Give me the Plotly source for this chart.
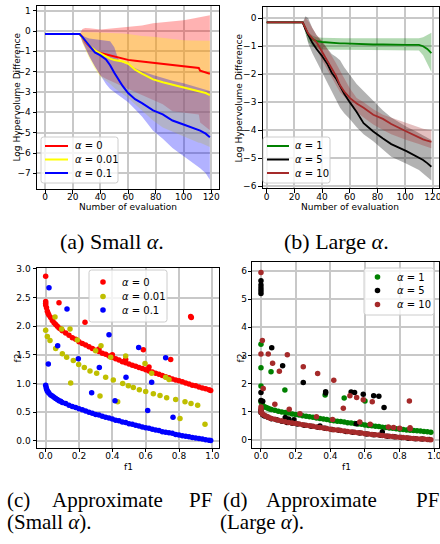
import plotly.graph_objects as go

W, H = 440, 544

# ---------------- (a) Small alpha: log hypervolume difference ----------------
a_x = [0, 25, 27, 29, 32, 36, 40, 44, 47, 50, 53, 56, 60, 65, 70, 78, 85, 92, 100, 106, 111, 112, 116, 119]
a_red_mean = [-0.15, -0.15, -0.3, -0.52, -0.75, -0.98, -1.08, -1.15, -1.2, -1.25, -1.3, -1.36, -1.42, -1.46, -1.5, -1.56, -1.62, -1.66, -1.72, -1.77, -1.82, -1.95, -2.02, -2.1]
a_red_hi = [-0.15, -0.15, 0.1, 0.15, 0.14, 0.1, 0.08, 0.1, 0.12, 0.12, 0.13, 0.15, 0.18, 0.22, 0.27, 0.38, 0.42, 0.47, 0.53, 0.6, 0.68, 0.69, 0.74, 0.78]
a_red_lo = [-0.15, -0.15, -0.55, -0.85, -1.25, -1.75, -2.2, -2.35, -2.45, -2.55, -2.65, -2.75, -2.85, -3.0, -3.15, -3.4, -3.6, -3.95, -4.0, -4.05, -4.1, -4.5, -4.7, -4.88]
a_yel_mean = [-0.15, -0.15, -0.32, -0.5, -0.72, -0.95, -1.1, -1.27, -1.36, -1.43, -1.47, -1.5, -1.6, -1.9, -2.1, -2.38, -2.52, -2.64, -2.78, -2.88, -2.96, -2.97, -3.05, -3.15]
a_yel_hi = [-0.15, -0.15, -0.05, -0.05, -0.05, -0.05, -0.06, -0.08, -0.1, -0.1, -0.11, -0.12, -0.15, -0.2, -0.24, -0.28, -0.34, -0.4, -0.45, -0.47, -0.48, -0.48, -0.48, -0.48]
a_yel_lo = [-0.15, -0.15, -0.6, -0.9, -1.35, -1.85, -2.25, -2.45, -2.6, -2.8, -2.95, -3.1, -3.3, -3.6, -3.9, -4.4, -4.75, -4.95, -5.2, -5.35, -5.5, -5.5, -5.6, -5.7]
a_blu_mean = [-0.15, -0.15, -0.3, -0.45, -0.72, -1.05, -1.2, -1.4, -1.68, -2.05, -2.4, -2.7, -3.05, -3.35, -3.55, -3.9, -4.1, -4.4, -4.6, -4.75, -4.85, -4.9, -5.05, -5.22]
a_blu_hi = [-0.15, -0.15, -0.22, -0.3, -0.37, -0.4, -0.43, -0.46, -0.5, -0.8, -1.4, -1.55, -1.68, -1.85, -1.98, -2.16, -2.3, -2.45, -2.57, -2.7, -2.8, -2.82, -2.88, -2.95]
a_blu_lo = [-0.15, -0.15, -0.5, -0.8, -1.25, -1.75, -2.2, -2.6, -2.85, -3.0, -3.15, -3.3, -3.5, -3.85, -4.2, -4.9, -5.3, -5.75, -6.15, -6.45, -6.7, -6.75, -7.0, -7.32]
a_labels = ["<i>α</i> = 0", "<i>α</i> = 0.01", "<i>α</i> = 0.1"]

# ---------------- (b) Large alpha ----------------
b_x = [0, 26, 28, 30, 33, 36, 40, 44, 47, 50, 53, 56, 60, 65, 70, 77, 84, 90, 101, 108, 110, 113, 116, 119]
b_grn_mean = [-0.15, -0.15, -0.35, -0.6, -0.75, -0.82, -0.85, -0.87, -0.88, -0.89, -0.9, -0.9, -0.91, -0.92, -0.93, -0.94, -0.94, -0.95, -0.95, -0.95, -0.95, -1.0, -1.1, -1.25]
b_grn_hi = [-0.15, -0.15, -0.3, -0.5, -0.62, -0.68, -0.7, -0.71, -0.71, -0.72, -0.72, -0.72, -0.72, -0.72, -0.72, -0.72, -0.72, -0.72, -0.72, -0.72, -0.72, -0.68, -0.6, -0.52]
b_grn_lo = [-0.15, -0.15, -0.55, -0.85, -1.0, -1.08, -1.12, -1.13, -1.13, -1.13, -1.13, -1.13, -1.13, -1.13, -1.13, -1.13, -1.13, -1.13, -1.13, -1.13, -1.15, -1.32, -1.6, -1.92]
b_blk_mean = [-0.15, -0.15, -0.4, -0.6, -0.88, -1.1, -1.35, -1.65, -1.95, -2.15, -2.45, -2.7, -3.0, -3.35, -3.75, -4.05, -4.3, -4.5, -4.75, -4.93, -4.98, -5.07, -5.18, -5.31]
b_blk_hi = [-0.15, -0.15, 0.07, 0.0, -0.35, -0.6, -0.85, -1.1, -1.28, -1.38, -1.5, -1.75, -2.0, -2.35, -2.6, -2.95, -3.3, -3.55, -3.88, -4.05, -4.1, -4.18, -4.25, -4.35]
b_blk_lo = [-0.15, -0.15, -0.5, -0.9, -1.25, -1.55, -1.95, -2.35, -2.6, -2.9, -3.2, -3.4, -3.6, -3.9, -4.15, -4.4, -4.7, -4.95, -5.2, -5.38, -5.43, -5.55, -5.68, -5.8]
b_brn_mean = [-0.15, -0.15, -0.35, -0.55, -0.72, -0.85, -1.2, -1.52, -1.8, -2.05, -2.4, -2.62, -2.85, -3.05, -3.2, -3.45, -3.6, -3.78, -4.05, -4.22, -4.27, -4.33, -4.38, -4.42]
b_brn_hi = [-0.15, -0.15, 0.0, -0.1, -0.35, -0.6, -0.8, -1.1, -1.35, -1.6, -1.85, -2.15, -2.5, -2.85, -3.0, -3.25, -3.45, -3.55, -3.76, -3.86, -3.9, -3.95, -3.98, -4.0]
b_brn_lo = [-0.15, -0.15, -0.4, -0.65, -0.9, -1.1, -1.5, -1.85, -2.1, -2.35, -2.65, -2.8, -3.05, -3.35, -3.55, -3.8, -4.0, -4.15, -4.35, -4.45, -4.5, -4.55, -4.6, -4.65]
b_labels = ["<i>α</i> = 1", "<i>α</i> = 5", "<i>α</i> = 10"]

# ---------------- (c) Approximate PF, small alpha ----------------
c_red_f1 = [0.0, 0.005, 0.01, 0.015, 0.02, 0.03, 0.04, 0.05, 0.06, 0.07, 0.08, 0.09, 0.10, 0.12, 0.14, 0.16, 0.18, 0.20,
            0.22, 0.24, 0.26, 0.28, 0.30, 0.32, 0.34, 0.36, 0.38, 0.40, 0.42, 0.44, 0.46, 0.48, 0.50, 0.52, 0.54, 0.56,
            0.58, 0.60, 0.62, 0.64, 0.66, 0.68, 0.70, 0.72, 0.74, 0.76, 0.78, 0.80, 0.82, 0.84, 0.86, 0.88, 0.90, 0.92,
            0.94, 0.96, 0.98, 0.99,
            0.0, 0.0, 0.0, 0.08, 0.236, 0.586, 0.62, 0.75, 0.87, 0.874, 0.48, 0.40, 0.32]
c_red_f2 = [2.40, 2.32, 2.26, 2.22, 2.19, 2.15, 2.10, 2.06, 2.03, 2.00, 1.97, 1.95, 1.92, 1.88, 1.84, 1.80, 1.77, 1.73,
            1.70, 1.67, 1.64, 1.61, 1.58, 1.56, 1.53, 1.51, 1.48, 1.46, 1.43, 1.41, 1.38, 1.36, 1.34, 1.32, 1.30, 1.28,
            1.26, 1.24, 1.22, 1.20, 1.18, 1.16, 1.14, 1.12, 1.10, 1.08, 1.06, 1.05, 1.03, 1.01, 0.99, 0.97, 0.96, 0.94,
            0.92, 0.91, 0.89, 0.88,
            2.87, 2.43, 2.37, 2.41, 2.07, 1.59, 1.29, 1.42, 2.17, 2.15, 1.42, 1.50, 1.60]
c_yel_f1 = [0.0, 0.01, 0.026, 0.056, 0.06, 0.096, 0.10, 0.126, 0.146, 0.15, 0.166, 0.19, 0.198, 0.232, 0.266, 0.30,
            0.306, 0.326, 0.332, 0.36, 0.39, 0.406, 0.432, 0.462, 0.48, 0.496, 0.526, 0.562, 0.596, 0.60, 0.636, 0.646,
            0.686, 0.72, 0.726, 0.74, 0.78, 0.806, 0.836, 0.872, 0.912, 0.956]
c_yel_f2 = [1.93, 1.82, 1.75, 2.16, 1.61, 1.95, 1.52, 1.46, 1.95, 1.01, 1.40, 1.76, 1.33, 1.28, 1.22, 1.57,
            1.18, 0.78, 1.66, 1.11, 1.46, 1.06, 0.68, 1.00, 1.48, 0.96, 0.93, 0.89, 1.35, 0.86, 1.18, 0.82,
            0.79, 1.11, 0.75, 1.07, 0.72, 0.39, 0.68, 0.65, 0.62, 0.29]
c_blu_f1 = [0.0, 0.003, 0.006, 0.01, 0.015, 0.02, 0.03, 0.04, 0.05, 0.06, 0.07, 0.08, 0.09, 0.10, 0.12, 0.14, 0.16,
            0.18, 0.20, 0.22, 0.24, 0.26, 0.28, 0.30, 0.32, 0.34, 0.36, 0.38, 0.40, 0.42, 0.44, 0.46, 0.48, 0.50, 0.52,
            0.54, 0.56, 0.58, 0.60, 0.62, 0.64, 0.66, 0.68, 0.70, 0.72, 0.74, 0.76, 0.78, 0.80, 0.82, 0.84, 0.86, 0.88,
            0.90, 0.92, 0.94, 0.96, 0.98, 0.99,
            0.02, 0.128, 0.072, 0.016, 0.196, 0.322, 0.38, 0.276, 0.416, 0.482, 0.558, 0.636, 0.612, 0.72, 0.764]
c_blu_f2 = [0.97, 0.93, 0.90, 0.87, 0.85, 0.83, 0.80, 0.78, 0.76, 0.74, 0.72, 0.70, 0.69, 0.67, 0.65, 0.62, 0.60,
            0.58, 0.56, 0.54, 0.52, 0.50, 0.48, 0.46, 0.45, 0.43, 0.41, 0.40, 0.38, 0.36, 0.35, 0.33, 0.32, 0.30, 0.29,
            0.27, 0.26, 0.24, 0.23, 0.22, 0.20, 0.19, 0.18, 0.16, 0.15, 0.14, 0.13, 0.11, 0.10, 0.09, 0.08, 0.07, 0.06,
            0.05, 0.04, 0.03, 0.02, 0.01, 0.005,
            2.67, 2.30, 1.66, 1.34, 1.43, 1.28, 1.85, 0.84, 0.70, 1.11, 1.63, 1.02, 0.53, 1.45, 0.41]
c_labels = ["<i>α</i> = 0", "<i>α</i> = 0.01", "<i>α</i> = 0.1"]

# ---------------- (d) Approximate PF, large alpha ----------------
d_grn_f1 = [0.0, 0.005, 0.01, 0.02, 0.03, 0.04, 0.05, 0.06, 0.08, 0.10, 0.12, 0.14, 0.16, 0.18, 0.20, 0.22, 0.24, 0.26,
            0.28, 0.30, 0.32, 0.34, 0.36, 0.38, 0.40, 0.42, 0.44, 0.46, 0.48, 0.50, 0.52, 0.54, 0.56, 0.58, 0.60, 0.62,
            0.64, 0.66, 0.68, 0.70, 0.72, 0.74, 0.76, 0.78, 0.80, 0.82, 0.84, 0.86, 0.88, 0.90, 0.92, 0.94, 0.96, 0.98,
            0.0, 0.0, 0.0, 0.058, 0.138, 0.37, 0.48, 0.60]
d_grn_f2 = [1.35, 1.28, 1.23, 1.18, 1.15, 1.12, 1.10, 1.08, 1.05, 1.02, 0.99, 0.97, 0.95, 0.92, 0.90, 0.88, 0.86, 0.84,
            0.82, 0.80, 0.78, 0.76, 0.74, 0.72, 0.70, 0.68, 0.66, 0.65, 0.63, 0.61, 0.60, 0.58, 0.56, 0.55, 0.53, 0.51,
            0.50, 0.48, 0.47, 0.45, 0.44, 0.42, 0.41, 0.39, 0.38, 0.37, 0.35, 0.34, 0.33, 0.32, 0.31, 0.30, 0.29, 0.27,
            3.40, 2.56, 1.91, 2.42, 1.77, 1.59, 1.49, 1.38]
d_blk_f1 = [0.0, 0.01, 0.02, 0.04, 0.06, 0.09, 0.12, 0.15, 0.18, 0.21, 0.25, 0.29, 0.33, 0.37, 0.41, 0.45, 0.49, 0.53,
            0.57, 0.61, 0.65, 0.69, 0.73, 0.77, 0.81, 0.85, 0.89, 0.93, 0.97,
            0.14, 0.16, 0.19, 0.34, 0.55, 0.70,
            0.0, 0.0, 0.0, 0.0, 0.0, 0.0, 0.0, 0.0, 0.01, 0.062, 0.125, 0.244, 0.373, 0.373, 0.52, 0.54, 0.59, 0.65,
            0.68, 0.71]
d_blk_f2 = [0.97, 0.89, 0.85, 0.80, 0.75, 0.71, 0.66, 0.62, 0.59, 0.56, 0.52, 0.48, 0.45, 0.41, 0.37, 0.34, 0.30, 0.27,
            0.24, 0.21, 0.18, 0.16, 0.13, 0.11, 0.08, 0.06, 0.04, 0.025, 0.01,
            0.79, 0.74, 0.71, 0.49, 0.57, 0.28,
            5.65, 5.50, 5.40, 5.30, 5.20, 1.68, 1.40, 1.05, 1.37, 3.27, 2.63, 2.04, 1.71, 1.66, 1.70, 1.68, 1.62, 1.57,
            1.55, 1.15]
d_brn_f1 = [0.0, 0.005, 0.01, 0.02, 0.03, 0.04, 0.05, 0.06, 0.08, 0.10, 0.12, 0.14, 0.16, 0.18, 0.20, 0.22, 0.24, 0.26,
            0.28, 0.30, 0.32, 0.34, 0.36, 0.38, 0.40, 0.42, 0.44, 0.46, 0.48, 0.50, 0.52, 0.54, 0.56, 0.58, 0.60, 0.62,
            0.64, 0.66, 0.68, 0.70, 0.72, 0.74, 0.76, 0.78, 0.80, 0.82, 0.84, 0.86, 0.88, 0.90, 0.92, 0.94, 0.96, 0.98,
            0.0, 0.008, 0.0, 0.042, 0.067, 0.106, 0.152, 0.244, 0.327, 0.42, 0.475, 0.513, 0.552, 0.59, 0.642, 0.856,
            0.013, 0.08, 0.163, 0.225, 0.32, 0.413, 0.57, 0.63, 0.735, 0.765, 0.80, 0.86, 0.86, 0.0, 0.0]
d_brn_f2 = [1.00, 0.95, 0.91, 0.87, 0.84, 0.81, 0.78, 0.76, 0.73, 0.70, 0.67, 0.64, 0.62, 0.60, 0.58, 0.56, 0.54, 0.52,
            0.50, 0.48, 0.46, 0.44, 0.42, 0.40, 0.38, 0.36, 0.35, 0.33, 0.31, 0.30, 0.28, 0.27, 0.25, 0.24, 0.22, 0.21,
            0.19, 0.18, 0.17, 0.15, 0.14, 0.13, 0.12, 0.10, 0.09, 0.08, 0.07, 0.06, 0.05, 0.04, 0.03, 0.025, 0.015, 0.005,
            5.95, 3.53, 3.05, 3.05, 2.72, 2.44, 3.02, 2.60, 2.36, 2.12, 1.12, 1.57, 1.50, 1.42, 1.35, 1.38,
            1.82, 1.26, 1.09, 0.93, 0.82, 0.72, 0.63, 0.55, 0.46, 0.44, 0.41, 0.43, 0.39, 1.17, 1.10]
d_labels = ["<i>α</i> = 1", "<i>α</i> = 5", "<i>α</i> = 10"]

# ---------------- captions ----------------
cap_a = "(a) Small <i>α</i>."
cap_b = "(b) Large <i>α</i>."
cap_c_words = ["(c)", "Approximate", "PF"]
cap_d_words = ["(d)", "Approximate", "PF"]
cap_c2 = "(Small <i>α</i>)."
cap_d2 = "(Large <i>α</i>)."

# ---------------- figure ----------------
FONT = "DejaVu Sans"
SERIF = "Liberation Serif"


def px_x(p):
    return p / W


def px_y(p):
    return 1 - p / H


fig = go.Figure()


def band(x, hi, lo, color, xa, ya):
    fig.add_trace(go.Scatter(x=x, y=hi, mode="lines", line=dict(width=0, color=color),
                             showlegend=False, hoverinfo="skip", xaxis=xa, yaxis=ya))
    fig.add_trace(go.Scatter(x=x, y=lo, mode="lines", line=dict(width=0, color=color),
                             fill="tonexty", fillcolor=color, showlegend=False, hoverinfo="skip",
                             xaxis=xa, yaxis=ya))


a_cols = ["#ff0000", "#ffff00", "#0000ff"]
b_cols = ["#008000", "#000000", "#a52a2a"]
c_cols = ["#ff0000", "#bfbf00", "#0000ff"]
d_cols = ["#008000", "#000000", "#a52a2a"]

# (a)
band(a_x, a_red_hi, a_red_lo, "rgba(255,0,0,0.3)", "x", "y")
band(a_x, a_yel_hi, a_yel_lo, "rgba(255,255,0,0.3)", "x", "y")
band(a_x, a_blu_hi, a_blu_lo, "rgba(0,0,255,0.3)", "x", "y")
for ys, col, lab in zip([a_red_mean, a_yel_mean, a_blu_mean], a_cols, a_labels):
    fig.add_trace(go.Scatter(x=a_x, y=ys, mode="lines", line=dict(color=col, width=2), name=lab,
                             showlegend=False, xaxis="x", yaxis="y"))

# (b)
band(b_x, b_grn_hi, b_grn_lo, "rgba(0,128,0,0.3)", "x2", "y2")
band(b_x, b_blk_hi, b_blk_lo, "rgba(0,0,0,0.3)", "x2", "y2")
band(b_x, b_brn_hi, b_brn_lo, "rgba(165,42,42,0.3)", "x2", "y2")
for ys, col, lab in zip([b_grn_mean, b_blk_mean, b_brn_mean], b_cols, b_labels):
    fig.add_trace(go.Scatter(x=b_x, y=ys, mode="lines", line=dict(color=col, width=1.8), name=lab,
                             showlegend=False, xaxis="x2", yaxis="y2"))

# (c)
for xs, ys, col, lab in zip([c_red_f1, c_yel_f1, c_blu_f1], [c_red_f2, c_yel_f2, c_blu_f2], c_cols, c_labels):
    fig.add_trace(go.Scatter(x=xs, y=ys, mode="markers", marker=dict(color=col, size=5.5, line=dict(width=0)),
                             name=lab, showlegend=False, xaxis="x3", yaxis="y3"))

# (d)
for xs, ys, col, lab in zip([d_grn_f1, d_blk_f1, d_brn_f1], [d_grn_f2, d_blk_f2, d_brn_f2], d_cols, d_labels):
    fig.add_trace(go.Scatter(x=xs, y=ys, mode="markers", marker=dict(color=col, size=5.5, line=dict(width=0)),
                             name=lab, showlegend=False, xaxis="x4", yaxis="y4"))


def axis(domain, rng, tickvals, fmt=None, anchor=None, standoff=0):
    d = dict(domain=domain, range=rng, tickvals=tickvals, showline=True, mirror=True, linecolor="black",
             linewidth=1, ticks="outside", ticklen=3.5, tickwidth=1, tickcolor="black", showgrid=True,
             gridcolor="#c8c8c8", gridwidth=1.5, zeroline=False, automargin=False, anchor=anchor,
             ticklabelstandoff=standoff, ticklabeloverflow="allow",
             tickfont=dict(family=FONT, size=9, color="black"))
    if fmt:
        d["tickformat"] = fmt
    return d


ann = []
shapes = []


def text(x, y, s, size=9, angle=0, family=FONT, xanchor="center"):
    ann.append(dict(x=px_x(x), y=px_y(y), xref="paper", yref="paper", text=s, showarrow=False,
                    textangle=angle, font=dict(family=family, size=size, color="black"),
                    xanchor=xanchor, yanchor="middle"))


def legend_box(x0, y0, x1, y1, r=2.5):
    X = px_x
    Y = px_y
    p = (f"M {X(x0 + r)},{Y(y0)} L {X(x1 - r)},{Y(y0)} Q {X(x1)},{Y(y0)} {X(x1)},{Y(y0 + r)} "
         f"L {X(x1)},{Y(y1 - r)} Q {X(x1)},{Y(y1)} {X(x1 - r)},{Y(y1)} "
         f"L {X(x0 + r)},{Y(y1)} Q {X(x0)},{Y(y1)} {X(x0)},{Y(y1 - r)} "
         f"L {X(x0)},{Y(y0 + r)} Q {X(x0)},{Y(y0)} {X(x0 + r)},{Y(y0)} Z")
    shapes.append(dict(type="path", path=p, xref="paper", yref="paper", layer="above",
                       fillcolor="rgba(255,255,255,0.8)", line=dict(color="#cccccc", width=1)))


def line_legend(box, rows, sx0, sx1, tx, labels, cols, width):
    legend_box(*box)
    for yy, lab, col in zip(rows, labels, cols):
        shapes.append(dict(type="line", xref="paper", yref="paper", layer="above",
                           x0=px_x(sx0), x1=px_x(sx1), y0=px_y(yy), y1=px_y(yy),
                           line=dict(color=col, width=width)))
        text(tx, yy, lab, size=10, xanchor="left")


def marker_legend(box, rows, mx, tx, labels, cols, r=2.8):
    legend_box(*box)
    for yy, lab, col in zip(rows, labels, cols):
        shapes.append(dict(type="circle", xref="paper", yref="paper", layer="above",
                           x0=px_x(mx - r), x1=px_x(mx + r), y0=px_y(yy + r), y1=px_y(yy - r),
                           fillcolor=col, line=dict(width=0)))
        text(tx, yy, lab, size=10, xanchor="left")


line_legend((41, 137, 118, 183), [146, 159.5, 173], 45, 68, 72.5, a_labels, a_cols, 2)
line_legend((263, 137, 330, 183), [146, 159.5, 173], 267, 289, 293, b_labels, b_cols, 2)
marker_legend((89, 270, 167, 322), [282, 296.5, 310], 103, 120, c_labels, c_cols)
marker_legend((364, 268, 434, 315), [277, 290.5, 304.5], 377.5, 395, d_labels, d_cols)

text(17, 97.5, "Log Hypervolume Difference", angle=-90)
text(128, 207.5, "Number of evaluation")
text(238.5, 98, "Log Hypervolume Difference", angle=-90)
text(350, 207.5, "Number of evaluation")
text(17.5, 358, "f2", angle=-90)
text(128, 467, "f1")
text(240.5, 358, "f2", angle=-90)
text(346, 467, "f1")

text(112, 241, cap_a, size=22, family=SERIF)
text(336, 241, cap_b, size=22, family=SERIF)
for w, xl in zip(cap_c_words, [5, 50, 187]):
    text(xl, 500, w, size=21, family=SERIF, xanchor="left")
for w, xl in zip(cap_d_words, [221, 264, 414]):
    text(xl, 500, w, size=21, family=SERIF, xanchor="left")
text(5, 522, cap_c2, size=21, family=SERIF, xanchor="left")
text(218, 522, cap_d2, size=21, family=SERIF, xanchor="left")

fig.update_layout(
    width=W, height=H, autosize=False, template="none",
    margin=dict(l=0, r=0, t=0, b=0, pad=0),
    paper_bgcolor="white", plot_bgcolor="white",
    showlegend=False,
    xaxis=axis([px_x(37), px_x(219)], [-5.8, 125.6], [0, 20, 40, 60, 80, 100, 120], anchor="y", standoff=-4),
    yaxis=axis([px_y(189), px_y(6)], [-7.77, 1.23], [-7, -6, -5, -4, -3, -2, -1, 0, 1], anchor="x"),
    xaxis2=axis([px_x(262.7), px_x(439)], [-2.9, 124.5], [0, 20, 40, 60, 80, 100, 120], anchor="y2", standoff=-4),
    yaxis2=axis([px_y(188.3), px_y(7.3)], [-6.08, 0.39], [-6, -5, -4, -3, -2, -1, 0], anchor="x2"),
    xaxis3=axis([px_x(37), px_x(219)], [-0.052, 1.04], [0, 0.2, 0.4, 0.6, 0.8, 1.0], ".1f", anchor="y3", standoff=-4),
    yaxis3=axis([px_y(447.7), px_y(268.3)], [-0.12, 3.01], [0, 0.5, 1.0, 1.5, 2.0, 2.5, 3.0], ".1f", anchor="x3"),
    xaxis4=axis([px_x(252.3), px_x(439)], [-0.05, 1.027], [0, 0.2, 0.4, 0.6, 0.8, 1.0], ".1f", anchor="y4", standoff=-4),
    yaxis4=axis([px_y(447.7), px_y(262.3)], [-0.28, 6.31], [0, 1, 2, 3, 4, 5, 6], anchor="x4", standoff=-1),
    annotations=ann,
    shapes=shapes,
)

fig.write_html("out.html", config={"displayModeBar": False},
               post_script="document.body.style.margin='0';")
